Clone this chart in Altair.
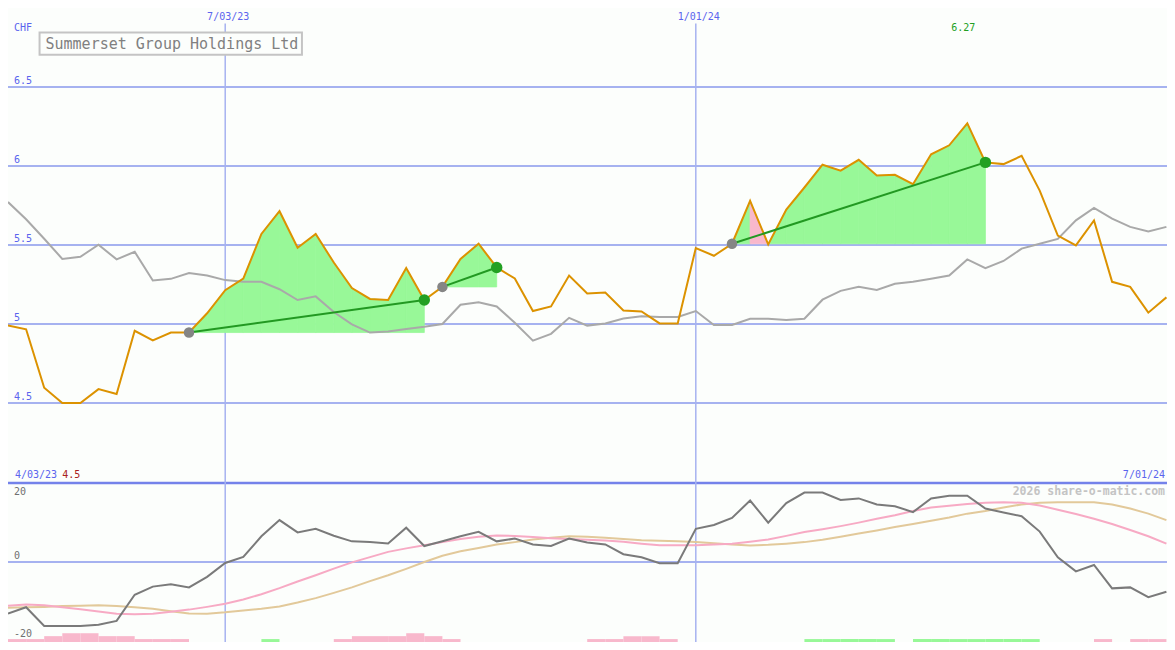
import altair as alt
import pandas as pd

# ---------------- data ----------------
weeks = list(range(65))  # weekly points, 10 Apr 2023 .. 1 Jul 2024

price = [4.990, 4.967, 4.597, 4.500, 4.500, 4.588, 4.557, 4.957, 4.897, 4.946,
         4.946, 5.068, 5.214, 5.288, 5.570, 5.714, 5.483, 5.570, 5.389, 5.228,
         5.159, 5.152, 5.354, 5.152, 5.235, 5.412, 5.508, 5.358, 5.288, 5.082,
         5.111, 5.307, 5.193, 5.199, 5.086, 5.080, 5.004, 5.004, 5.481, 5.432,
         5.508, 5.780, 5.504, 5.724, 5.864, 6.008, 5.971, 6.039, 5.940, 5.944,
         5.885, 6.074, 6.131, 6.270, 6.023, 6.012, 6.064, 5.844, 5.560, 5.498,
         5.656, 5.267, 5.235, 5.072, 5.169]

avg = [5.772, 5.663, 5.540, 5.412, 5.426, 5.502, 5.409, 5.457, 5.276, 5.286,
       5.323, 5.307, 5.278, 5.267, 5.267, 5.220, 5.152, 5.175, 5.076, 4.998,
       4.946, 4.952, 4.969, 4.983, 5.000, 5.122, 5.138, 5.111, 5.008, 4.895,
       4.938, 5.039, 4.990, 5.004, 5.035, 5.049, 5.045, 5.045, 5.082, 4.994,
       4.994, 5.033, 5.033, 5.025, 5.033, 5.154, 5.210, 5.236, 5.216, 5.255,
       5.267, 5.286, 5.307, 5.409, 5.354, 5.399, 5.477, 5.508, 5.539, 5.656,
       5.735, 5.667, 5.615, 5.585, 5.615]

osc = [-13.2, -11.6, -16.4, -16.4, -16.4, -16.1, -15.1, -8.4, -6.3, -5.7,
       -6.5, -3.8, -0.25, 1.3, 6.6, 10.75, 7.6, 8.5, 6.75, 5.3,
       5.1, 4.75, 8.8, 4.1, 5.3, 6.6, 7.75, 5.3, 6.0, 4.5,
       4.1, 6.0, 5.0, 4.5, 2.0, 1.2, -0.3, -0.3, 8.5, 9.5,
       11.3, 15.75, 10.1, 15.1, 17.8, 17.8, 15.9, 16.3, 14.75, 14.3,
       12.8, 16.3, 17.0, 17.0, 13.7, 12.7, 11.75, 7.8, 1.2, -2.4,
       -0.75, -6.75, -6.5, -9.0, -7.6]

osc_pink = [-11.2, -10.9, -11.1, -11.6, -12.1, -12.7, -13.25, -13.4, -13.25, -12.75,
            -12.2, -11.5, -10.7, -9.6, -8.25, -6.7, -5.0, -3.4, -1.7, -0.1,
            1.25, 2.6, 3.5, 4.3, 5.1, 5.9, 6.5, 6.8, 6.7, 6.4,
            6.1, 5.9, 5.7, 5.5, 5.2, 4.7, 4.3, 4.3, 4.3, 4.5,
            4.7, 5.2, 5.75, 6.7, 7.7, 8.4, 9.2, 10.1, 11.1, 12.0,
            13.1, 14.0, 14.4, 14.9, 15.2, 15.3, 15.2, 14.5, 13.4, 12.3,
            11.1, 9.75, 8.2, 6.6, 4.7]

osc_tan = [-11.75, -11.6, -11.5, -11.3, -11.2, -11.1, -11.25, -11.6, -12.0, -12.6,
           -13.2, -13.25, -12.9, -12.4, -12.0, -11.4, -10.4, -9.25, -7.9, -6.5,
           -4.9, -3.4, -1.75, 0.0, 1.6, 2.75, 3.6, 4.5, 5.1, 5.75,
           6.25, 6.6, 6.5, 6.25, 5.9, 5.6, 5.45, 5.3, 5.1, 4.8,
           4.5, 4.25, 4.4, 4.7, 5.1, 5.7, 6.5, 7.3, 8.1, 9.0,
           9.75, 10.6, 11.4, 12.4, 13.1, 14.0, 14.75, 15.2, 15.3, 15.3,
           15.3, 14.75, 13.7, 12.4, 10.75]

trade_start = [10, 24, 40]
trade_end = [23, 27, 54]

bar_week = [0, 1, 2, 3, 4, 5, 6, 7, 8, 9, 14, 18, 19, 20, 21, 22, 23, 24,
            32, 33, 34, 35, 36, 44, 45, 46, 47, 48, 50, 51, 52, 53, 54, 55, 56,
            60, 62, 63]
bar_level = [1, 1, 2, 3, 3, 2, 2, 1, 1, 1, 1, 1, 2, 2, 2, 3, 2, 1,
             1, 1, 2, 2, 1, 1, 1, 1, 1, 1, 1, 1, 1, 1, 1, 1, 1,
             1, 1, 1]
bar_kind = ["neg"] * 10 + ["pos"] + ["neg"] * 7 + ["neg"] * 5 + ["pos"] * 5 + ["pos"] * 7 + ["neg"] * 3

price_ticks = [6.5, 6.0, 5.5, 5.0, 4.5]
price_tick_labels = ["6.5", "6", "5.5", "5", "4.5"]
date_weeks = [12, 38]
date_labels = ["7/03/23", "1/01/24"]
osc_ticks = [20, 0, -20]
osc_tick_labels = ["20", "0", "-20"]
title = "Summerset Group Holdings Ltd"
start_label = "4/03/23"
end_label = "7/01/24"
credit = "2026 share-o-matic.com"

# ---------------- layout / styling ----------------
W, H = 1159, 634            # drawable area inside the page margin
SX, SY = W / 1175, H / 650  # reference picture -> drawable area


def px(x):
    return x * SX


def py(y):
    return y * SY


BG = "#fcfefc"
GRID = "#a6b2f0"
LBL = "#5a64ee"
MONO = "DejaVu Sans Mono"
GREEN_FILL = "#98f898"
PINK_FILL = "#f8b8cc"

X = alt.X("w:Q", scale=alt.Scale(domain=[0, 64], range=[0, px(1174.4)], zero=False, nice=False), axis=None)


def YP(field):
    return alt.Y(field, scale=alt.Scale(domain=[4.5, 6.5], range=[py(405), py(81)], zero=False, nice=False), axis=None)


def YO(field):
    return alt.Y(field, scale=alt.Scale(domain=[-20, 20], range=[py(648), py(488)], zero=False, nice=False), axis=None)


main = pd.DataFrame({"w": weeks, "price": price, "avg": avg, "osc": osc,
                     "pink": osc_pink, "tan": osc_tan})

# trade fill segments
seg_rows, trend_rows, start_rows, end_rows = [], [], [], []
for k, (s, e) in enumerate(zip(trade_start, trade_end)):
    base = price[s]
    for j in range(s, e):
        t = j + 1
        trend_t = price[s] + (price[e] - price[s]) * (t - s) / (e - s)
        kind = "down" if price[t] < trend_t - 1e-9 else "up"
        sid = f"{k}-{j}"
        seg_rows.append({"seg": sid, "w": j, "price": price[j], "base": base, "kind": kind})
        seg_rows.append({"seg": sid, "w": t, "price": price[t], "base": base, "kind": kind})
    trend_rows.append({"trade": k, "w": s, "price": price[s]})
    trend_rows.append({"trade": k, "w": e, "price": price[e]})
    start_rows.append({"w": s, "price": price[s]})
    end_rows.append({"w": e, "price": price[e]})
segs = pd.DataFrame(seg_rows)
trends = pd.DataFrame(trend_rows)
starts = pd.DataFrame(start_rows)
ends = pd.DataFrame(end_rows)

bars = pd.DataFrame({"w": bar_week, "level": bar_level, "kind": bar_kind})
ticks = pd.DataFrame({"p": price_ticks, "label": price_tick_labels})
dates = pd.DataFrame({"w": date_weeks, "label": date_labels})
oticks = pd.DataFrame({"v": osc_ticks, "label": osc_tick_labels})
imax = max(range(len(price)), key=lambda i: price[i])
hi = pd.DataFrame({"w": [imax], "label": [f"{price[imax]:g}"]})
one = pd.DataFrame({"a": [0]})

layers = []

# grid
layers.append(alt.Chart(ticks).mark_rule(color=GRID, strokeWidth=2).encode(
    x=alt.value(0), x2=alt.value(W), y=YP("p:Q")))
layers.append(alt.Chart(oticks).transform_filter("datum.v == 0").mark_rule(color=GRID, strokeWidth=2).encode(
    x=alt.value(0), x2=alt.value(W), y=YO("v:Q")))
layers.append(alt.Chart(one).mark_rule(color="#7482ea", strokeWidth=2.5).encode(
    x=alt.value(0), x2=alt.value(W), y=alt.value(py(487))))
layers.append(alt.Chart(dates).mark_rule(color=GRID, strokeWidth=1.5).encode(
    x=X, y=alt.value(py(16)), y2=alt.value(H)))

# bottom signal bars
layers.append(alt.Chart(bars).transform_calculate(w2="datum.w + 1").mark_rect().encode(
    x=X, x2="w2:Q",
    y=alt.Y("level:Q", scale=alt.Scale(domain=[0, 3], range=[py(650), py(641)], zero=False, nice=False), axis=None),
    y2=alt.datum(0),
    color=alt.Color("kind:N", scale=alt.Scale(domain=["pos", "neg"], range=[GREEN_FILL, PINK_FILL]), legend=None)))

# oscillator lines
layers.append(alt.Chart(main).mark_line(color="#e2c99a", strokeWidth=2).encode(x=X, y=YO("tan:Q")))
layers.append(alt.Chart(main).mark_line(color="#f7aac4", strokeWidth=2).encode(x=X, y=YO("pink:Q")))
layers.append(alt.Chart(main).mark_line(color="#7a7a7a", strokeWidth=2).encode(x=X, y=YO("osc:Q")))

# trade fills
fill_scale = alt.Scale(domain=["up", "down"], range=[GREEN_FILL, PINK_FILL])
layers.append(alt.Chart(segs).mark_area(opacity=1, strokeWidth=0.8).encode(
    x=X, y=YP("price:Q"), y2=alt.Y2("base:Q"), detail="seg:N",
    color=alt.Color("kind:N", scale=fill_scale, legend=None),
    stroke=alt.Stroke("kind:N", scale=fill_scale, legend=None)))

# price lines
layers.append(alt.Chart(main).mark_line(color="#a9a9a9", strokeWidth=2).encode(x=X, y=YP("avg:Q")))
layers.append(alt.Chart(main).mark_line(color="#dc9200", strokeWidth=2).encode(x=X, y=YP("price:Q")))

# trend lines and dots
layers.append(alt.Chart(trends).mark_line(color="#229922", strokeWidth=2).encode(
    x=X, y=YP("price:Q"), detail="trade:N"))
layers.append(alt.Chart(starts).mark_circle(color="#858585", opacity=1, size=110).encode(x=X, y=YP("price:Q")))
layers.append(alt.Chart(ends).mark_circle(color="#22a022", opacity=1, size=130).encode(x=X, y=YP("price:Q")))

# texts
layers.append(alt.Chart(ticks).mark_text(align="left", baseline="bottom", dy=-1, font=MONO, fontSize=10, color=LBL).encode(
    x=alt.value(px(6)), y=YP("p:Q"), text="label:N"))
layers.append(alt.Chart(one).mark_text(align="left", baseline="middle", font=MONO, fontSize=10, color=LBL, text="CHF").encode(
    x=alt.value(px(6)), y=alt.value(py(21))))
layers.append(alt.Chart(dates).mark_text(align="center", baseline="middle", font=MONO, fontSize=10, color=LBL, dx=3).encode(
    x=X, y=alt.value(py(9)), text="label:N"))
layers.append(alt.Chart(hi).mark_text(align="center", baseline="middle", font=MONO, fontSize=10, color="#22a022", dx=-4).encode(
    x=X, y=alt.value(py(21)), text="label:N"))
layers.append(alt.Chart(one).mark_rect(fill=BG, stroke="#c4c4c4", strokeWidth=2).encode(
    x=alt.value(px(32)), x2=alt.value(px(298)), y=alt.value(py(25)), y2=alt.value(py(48))))
layers.append(alt.Chart(one).mark_text(align="left", baseline="middle", font=MONO, fontSize=15, color="#808080", text=title).encode(
    x=alt.value(px(38)), y=alt.value(py(36.5))))
layers.append(alt.Chart(one).mark_text(align="left", baseline="middle", font=MONO, fontSize=10, color=LBL, text=start_label).encode(
    x=alt.value(px(7)), y=alt.value(py(479))))
layers.append(alt.Chart(one).mark_text(align="left", baseline="middle", font=MONO, fontSize=10, color="#a82020",
                                       text=f"{min(price):g}").encode(x=alt.value(px(55)), y=alt.value(py(479))))
layers.append(alt.Chart(one).mark_text(align="right", baseline="middle", font=MONO, fontSize=10, color=LBL, text=end_label).encode(
    x=alt.value(px(1173)), y=alt.value(py(479))))
layers.append(alt.Chart(one).mark_text(align="right", baseline="middle", font=MONO, fontSize=11.5, fontWeight="bold",
                                       color="#c4c4c4", text=credit).encode(x=alt.value(px(1173)), y=alt.value(py(496))))
layers.append(alt.Chart(oticks).transform_calculate(lv="min(datum.v, 16.4)").mark_text(
    align="left", baseline="bottom", dy=-1, font=MONO, fontSize=10, color="#707070").encode(
    x=alt.value(px(6)), y=YO("lv:Q"), text="label:N"))

chart = alt.layer(*layers).resolve_scale(
    y="independent", color="independent", stroke="independent"
).properties(
    width=W, height=H, padding=0, autosize=alt.AutoSizeParams(type="none"), background=BG
).configure_view(stroke=None)

chart.save("out.html", embed_options={"renderer": "svg", "actions": False})
